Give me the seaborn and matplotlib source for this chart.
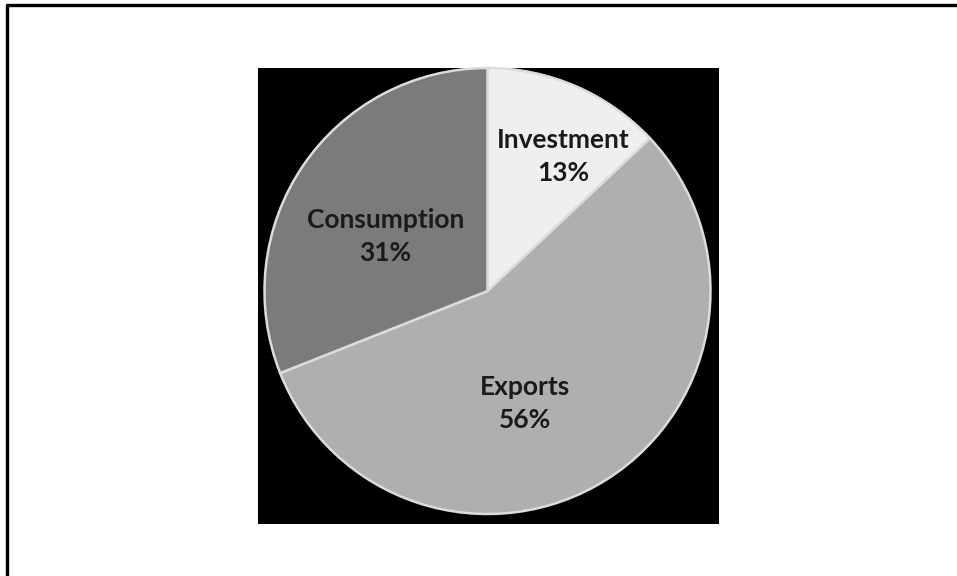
import matplotlib
matplotlib.use("Agg")
import matplotlib.pyplot as plt
import seaborn as sns
import numpy as np

categories = ["Investment", "Exports", "Consumption"]
shares = [13, 56, 31]
colors = ["#efefef", "#afafaf", "#7b7b7b"]
# label placement (angle in degrees, fraction of radius)
label_pos = [(60.6, 0.69), (-71.5, 0.53), (151.8, 0.52)]

sns.set_theme(style="white")
plt.rcParams['font.family'] = ['Lato', 'DejaVu Sans']

W, H = 957, 576
fig = plt.figure(figsize=(W / 100, H / 100), dpi=100)
fig.patch.set_facecolor("white")

# outer frame lines
fig.add_artist(plt.Line2D([6.5 / W, 6.5 / W], [0, 1 - 5 / H], color="black", lw=2.4,
                          transform=fig.transFigure))
fig.add_artist(plt.Line2D([6.5 / W, 1], [1 - 5 / H, 1 - 5 / H], color="black", lw=2.4,
                          transform=fig.transFigure))

# black chart box
bx0, bx1, by0, by1 = 258, 719, 68, 524
ax = fig.add_axes([bx0 / W, 1 - by1 / H, (bx1 - bx0) / W, (by1 - by0) / H])
ax.set_facecolor("black")
cx, cy, r = 487.5 - bx0, by1 - 291, 223
wedges, _ = ax.pie(shares, colors=colors, startangle=90, counterclock=False,
                   center=(cx, cy), radius=r, frame=True,
                   wedgeprops=dict(edgecolor="#dcdcdc", linewidth=1.8))
ax.set_xlim(0, bx1 - bx0)
ax.set_ylim(0, by1 - by0)
ax.set_xticks([])
ax.set_yticks([])
for s in ax.spines.values():
    s.set_visible(False)

for cat, val, (ang, d) in zip(categories, shares, label_pos):
    a = np.deg2rad(ang)
    ax.text(cx + d * r * np.cos(a), cy + d * r * np.sin(a), f"{cat}\n{val}%",
            ha="center", va="center", fontsize=19, fontweight="bold",
            color="#1a1a1a", linespacing=1.45)

fig.savefig("out.png", dpi=100, facecolor="white")
